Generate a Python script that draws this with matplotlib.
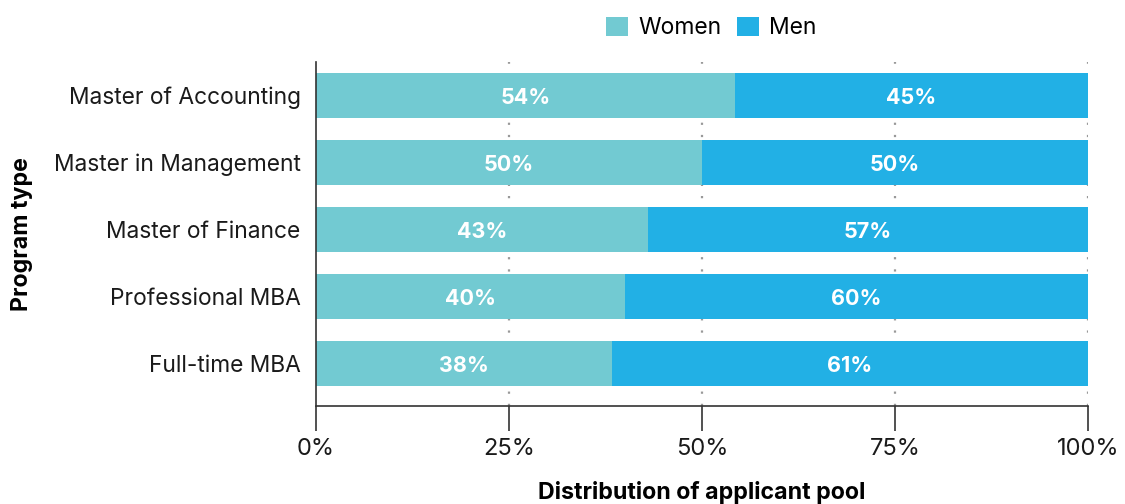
import numpy as np
import matplotlib.pyplot as plt
import matplotlib.ticker as mticker

plt.rcParams['font.family'] = ['Inter', 'DejaVu Sans']

programs = ["Master of Accounting", "Master in Management", "Master of Finance",
            "Professional MBA", "Full-time MBA"]
women = [54.3, 50.0, 43.0, 40.0, 38.3]
men = [45.7, 50.0, 57.0, 60.0, 61.7]
ticks = [0, 25, 50, 75, 100]

women_color = "#72CAD2"
men_color = "#22B0E5"

fig = plt.figure(figsize=(11.25, 5.04), dpi=100)
ax = fig.add_axes([0.2809, 0.1944, 0.6862, 0.6826])

y = np.arange(len(programs))
ax.barh(y, women, height=0.67, color=women_color, label="Women", zorder=2)
ax.barh(y, men, left=women, height=0.67, color=men_color, label="Men", zorder=2)

# value labels, truncated to whole percents
for i in range(len(programs)):
    ax.text(women[i] / 2, y[i] + 0.04, "{}%".format(int(women[i])), ha="center", va="center",
            color="white", fontsize=15.5, fontweight="bold", zorder=3)
    ax.text(women[i] + men[i] / 2, y[i] + 0.04, "{}%".format(int(men[i])), ha="center",
            va="center", color="white", fontsize=15.5, fontweight="bold", zorder=3)

ax.set_xlim(0, 100)
ax.set_ylim(4.634, -0.5)
ax.set_yticks(y)
ax.set_yticklabels(programs, fontsize=16.4, color="#1a1a1a")
ax.set_xticks(ticks)
ax.xaxis.set_major_formatter(mticker.FuncFormatter(lambda v, p: "{:d}%".format(int(v))))
ax.tick_params(axis="x", length=18, width=1.2, color="#333333", labelsize=17,
               labelcolor="#1a1a1a", pad=5)
ax.tick_params(axis="y", length=0, pad=11)

for x in ticks[1:]:
    ax.axvline(x, color="#999999", linestyle=(0, (1, 4.5)), linewidth=1.6, zorder=1)

for side in ("top", "right"):
    ax.spines[side].set_visible(False)
for side in ("left", "bottom"):
    ax.spines[side].set_color("#333333")
    ax.spines[side].set_linewidth(1.2)

ax.set_xlabel("Distribution of applicant pool", fontsize=16.7, fontweight="bold", labelpad=15)
ax.set_ylabel("Program type", fontsize=16.7, fontweight="bold", labelpad=15)

ax.legend(loc="center", bbox_to_anchor=(0.512, 1.099), ncol=2, frameon=False,
          fontsize=16.5, handlelength=0.95, handleheight=0.95, columnspacing=0.7,
          handletextpad=0.45)

fig.savefig("out.png", dpi=100)
